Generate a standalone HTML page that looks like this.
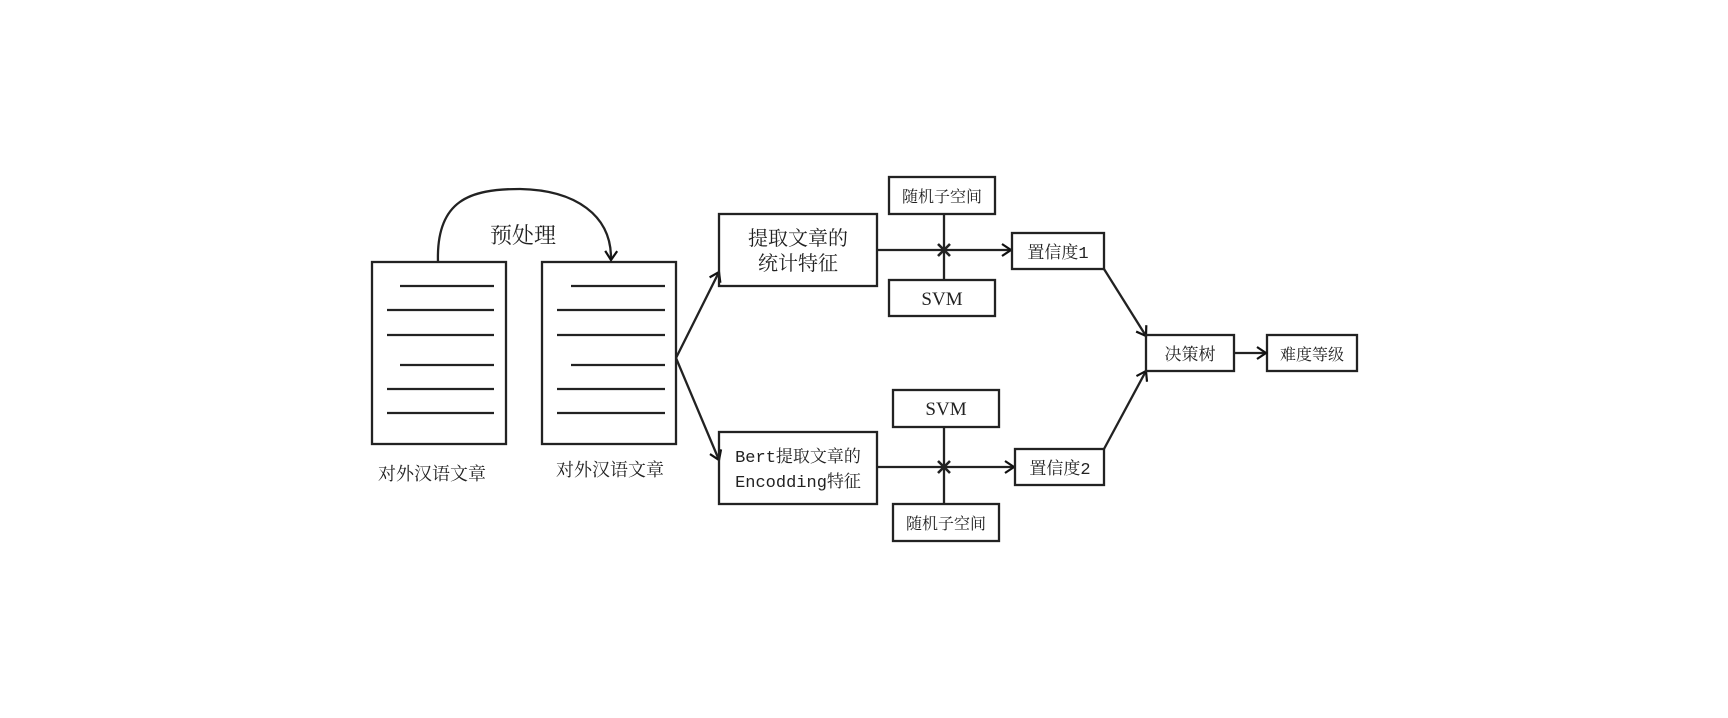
<!DOCTYPE html>
<html><head><meta charset="utf-8"><style>
html,body{margin:0;padding:0;background:#fff;}
svg{display:block;}
text{font-family:"Liberation Serif","Noto Serif CJK SC",serif;fill:#222;}
.m{font-family:"Liberation Mono","Noto Serif CJK SC",monospace;}
</style></head><body>
<svg width="1728" height="718" viewBox="0 0 1728 718" xmlns="http://www.w3.org/2000/svg">
<defs>
<marker id="a" markerWidth="14" markerHeight="14" refX="11" refY="7" orient="auto" markerUnits="userSpaceOnUse">
<path d="M2,1 L11,7 L2,13" fill="none" stroke="#111" stroke-width="2.2"/>
</marker>
</defs>
<g fill="none" stroke="#222" stroke-width="2.3">
<rect x="372" y="262" width="134" height="182"/>
<rect x="542" y="262" width="134" height="182"/>
<path d="M400,286H494M387,310H494M387,335H494M400,365H494M387,389H494M387,413H494"/>
<path d="M571,286H665M557,310H665M557,335H665M571,365H665M557,389H665M557,413H665"/>
<path d="M438,262 C436,200 470,189 520,189 C575,190 612,215 611,260" marker-end="url(#a)"/>
<path d="M676,358 L719,272" marker-end="url(#a)"/>
<path d="M676,358 L719,460" marker-end="url(#a)"/>
<rect x="719" y="214" width="158" height="72"/>
<rect x="719" y="432" width="158" height="72"/>
<rect x="889" y="177" width="106" height="37"/>
<rect x="889" y="280" width="106" height="36"/>
<rect x="893" y="390" width="106" height="37"/>
<rect x="893" y="504" width="106" height="37"/>
<path d="M944,214V280M944,427V504"/>
<path d="M877,250H1011" marker-end="url(#a)"/>
<path d="M877,467H1014" marker-end="url(#a)"/>
<path d="M938,244L950,256M950,244L938,256M938,461L950,473M950,461L938,473" stroke-width="2.6"/>
<rect x="1012" y="233" width="92" height="36"/>
<rect x="1015" y="449" width="89" height="36"/>
<path d="M1104,269L1146,336" marker-end="url(#a)"/>
<path d="M1104,449L1146,371" marker-end="url(#a)"/>
<rect x="1146" y="335" width="88" height="36"/>
<rect x="1267" y="335" width="90" height="36"/>
<path d="M1234,353H1266" marker-end="url(#a)"/>
</g>
<g text-anchor="middle">
<text x="523" y="243" font-size="22">预处理</text>
<text x="432" y="480" font-size="18">对外汉语文章</text>
<text x="610" y="476" font-size="18">对外汉语文章</text>
<text x="798" y="245" font-size="20">提取文章的</text>
<text x="798" y="270" font-size="20">统计特征</text>
<text class="m" x="798" y="462" font-size="17">Bert提取文章的</text>
<text class="m" x="798" y="487" font-size="17">Encodding特征</text>
<text x="942" y="202" font-size="16">随机子空间</text>
<text x="942" y="305" font-size="19">SVM</text>
<text x="946" y="415" font-size="19">SVM</text>
<text x="946" y="529" font-size="16">随机子空间</text>
<text class="m" x="1058" y="258" font-size="17">置信度1</text>
<text class="m" x="1060" y="474" font-size="17">置信度2</text>
<text x="1190" y="360" font-size="17">决策树</text>
<text x="1312" y="360" font-size="16">难度等级</text>
</g>
</svg>
</body></html>
